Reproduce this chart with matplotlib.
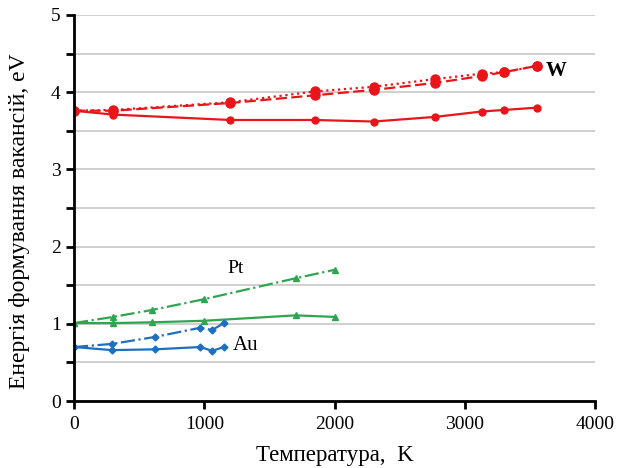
import matplotlib
matplotlib.use('Agg')
import matplotlib.pyplot as plt
from matplotlib.ticker import MultipleLocator

plt.rcParams['font.family'] = ['Liberation Serif', 'DejaVu Serif']

# W (tungsten)
w_t = [0, 300, 1200, 1850, 2300, 2770, 3130, 3300, 3550]
w_solid = [3.76, 3.71, 3.64, 3.64, 3.62, 3.68, 3.75, 3.77, 3.80]
w_dash = [3.76, 3.76, 3.86, 3.96, 4.03, 4.12, 4.21, 4.26, 4.34]
w_dot = [3.76, 3.77, 3.87, 4.01, 4.07, 4.17, 4.24, 4.26, 4.34]

# Pt
pt_t = [0, 300, 600, 1000, 1700, 2000]
pt_solid = [1.01, 1.01, 1.02, 1.04, 1.11, 1.09]
pt_dashdot = [1.01, 1.09, 1.18, 1.32, 1.59, 1.70]

# Au
au_t = [0, 290, 620, 970, 1060, 1150]
au_solid = [0.70, 0.66, 0.67, 0.70, 0.65, 0.70]
au_dashdot = [0.70, 0.74, 0.83, 0.95, 0.92, 1.01]

red = '#e8161b'
green = '#2fa552'
blue = '#1f6fc0'

fig, ax = plt.subplots(figsize=(6.22, 4.68), dpi=100)
fig.subplots_adjust(left=0.119, right=0.957, bottom=0.143, top=0.968)

ax.plot(w_t, w_solid, '-o', color=red, lw=1.6, ms=5)
ax.plot(w_t, w_dash, '--o', color=red, lw=1.6, ms=6.5, dashes=(5, 2))
ax.plot(w_t, w_dot, ':o', color=red, lw=1.6, ms=6.5)

ax.plot(pt_t, pt_solid, '-^', color=green, lw=1.6, ms=5)
ax.plot(pt_t, pt_dashdot, '-.^', color=green, lw=1.6, ms=5)

ax.plot(au_t, au_solid, '-D', color=blue, lw=1.6, ms=3.5)
ax.plot(au_t, au_dashdot, '-.D', color=blue, lw=1.6, ms=3.5)

ax.text(3620, 4.28, 'W', fontsize=15, fontweight='bold', va='center')
ax.text(1180, 1.72, 'Pt', fontsize=14, va='center')
ax.text(1220, 0.72, 'Au', fontsize=15, va='center')

ax.set_xlim(0, 4000)
ax.set_ylim(0, 5)
ax.xaxis.set_major_locator(MultipleLocator(1000))
ax.yaxis.set_major_locator(MultipleLocator(1))
ax.yaxis.set_minor_locator(MultipleLocator(0.5))
ax.grid(axis='y', which='both', color='#cccccc', lw=1.3)
ax.set_axisbelow(True)

for s in ['top', 'right']:
    ax.spines[s].set_visible(False)
for s in ['left', 'bottom']:
    ax.spines[s].set_linewidth(2)
ax.tick_params(which='both', direction='out', width=2, length=6, labelsize=14)
ax.tick_params(axis='x', pad=5)

ax.set_xlabel('Температура,  K', fontsize=16.5)
ax.set_ylabel('Енергія формування вакансій, eV', fontsize=17)
ax.xaxis.set_label_coords(0.5, -0.115)
ax.yaxis.set_label_coords(-0.085, 0.466)

fig.savefig('out.png')
